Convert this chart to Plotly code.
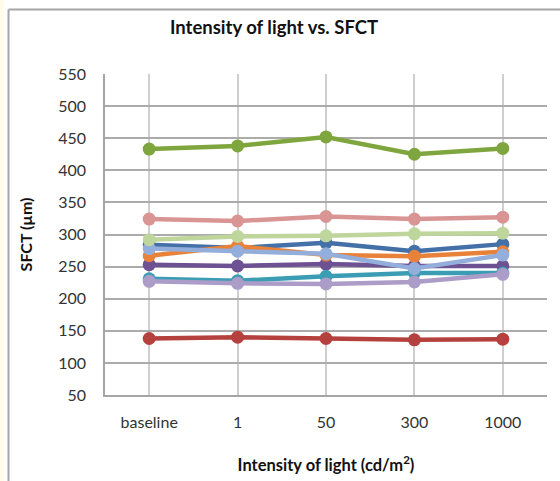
import plotly.graph_objects as go

categories = ["baseline", "1", "50", "300", "1000"]

series_names = ["S1", "S2", "S3", "S4", "S5", "S6", "S7", "S8", "S9", "S10"]
s1_blue = [284, 279, 287, 274, 285]
s2_red = [138, 140, 138, 136, 137]
s3_green = [433, 438, 452, 425, 434]
s4_purple = [253, 251, 254, 251, 251]
s5_teal = [231, 228, 235, 240, 240]
s6_orange = [267, 282, 268, 266, 273]
s7_lightblue = [278, 274, 270, 247, 268]
s8_pink = [324, 321, 328, 324, 327]
s9_lightgreen = [292, 297, 298, 301, 302]
s10_lightpurple = [227, 224, 223, 226, 238]

values = [s1_blue, s2_red, s3_green, s4_purple, s5_teal, s6_orange,
          s7_lightblue, s8_pink, s9_lightgreen, s10_lightpurple]
colors = ["#4470A8", "#B5413E", "#7FA63E", "#6D5192", "#3A9DB3", "#E8823A",
          "#94AEDB", "#D99594", "#BED59C", "#AB9CC8"]

W, H = 560, 481
L, R, T, B = 105, 13, 74, 86

fig = go.Figure()
for name, vals, c in zip(series_names, values, colors):
    fig.add_trace(go.Scatter(
        x=categories, y=vals, name=name, mode="lines+markers",
        line=dict(color=c, width=4.5),
        marker=dict(color=c, size=13),
        showlegend=False,
    ))

pw = W - L - R
ph = H - T - B
def px2paper_x(px):
    return (px - L) / pw
def px2paper_y(py):
    return (H - B - py) / ph

shapes = [
    dict(type="rect", xref="paper", yref="paper",
         x0=px2paper_x(0), x1=px2paper_x(3.5), y0=px2paper_y(H), y1=px2paper_y(0),
         fillcolor="#FFFDE8", line=dict(width=0), layer="below"),
    dict(type="line", xref="paper", yref="paper",
         x0=px2paper_x(8.5), x1=px2paper_x(8.5), y0=px2paper_y(H), y1=px2paper_y(9.5),
         line=dict(color="#A6A6A6", width=2)),
    dict(type="line", xref="paper", yref="paper",
         x0=px2paper_x(8.5), x1=px2paper_x(W), y0=px2paper_y(9.5), y1=px2paper_y(9.5),
         line=dict(color="#A6A6A6", width=2)),
]

font_family = "Lato, 'Open Sans', sans-serif"
tick_col = "#333333"
title_col = "#111111"

fig.update_layout(
    width=W, height=H,
    margin=dict(l=L, r=R, t=T, b=B),
    paper_bgcolor="white", plot_bgcolor="white",
    font=dict(family=font_family, size=16, color=tick_col),
    title=dict(text="<b>Intensity of light vs. SFCT</b>", x=274 / W, xanchor="center",
               y=1 - 28 / H, yanchor="middle",
               font=dict(size=18.5, color=title_col, family=font_family)),
    shapes=shapes,
    xaxis=dict(
        type="category", range=[-0.5, 4.5], automargin=False,
        showgrid=True, gridcolor="#CFCFCF", gridwidth=1.5,
        showline=True, linecolor="#A6A6A6", linewidth=1.5,
        ticks="", tickfont=dict(size=16, color=tick_col),
        ticklabelstandoff=12,
        title=dict(text="<b>Intensity of light (cd/m<sup>2</sup>)</b>",
                   font=dict(size=16.5, color=title_col), standoff=29),
        zeroline=False,
    ),
    yaxis=dict(
        range=[50, 550], dtick=50, tick0=50, automargin=False,
        showgrid=True, gridcolor="#ABABAB", gridwidth=1.5,
        showline=True, linecolor="#A6A6A6", linewidth=1.5,
        ticks="", ticklen=0, tickfont=dict(size=16, color=tick_col),
        ticklabelstandoff=14,
        title=dict(text="<b>SFCT (µm)</b>", font=dict(size=16, color=title_col), standoff=22),
        zeroline=False,
    ),
)

fig.write_html("out.html")
